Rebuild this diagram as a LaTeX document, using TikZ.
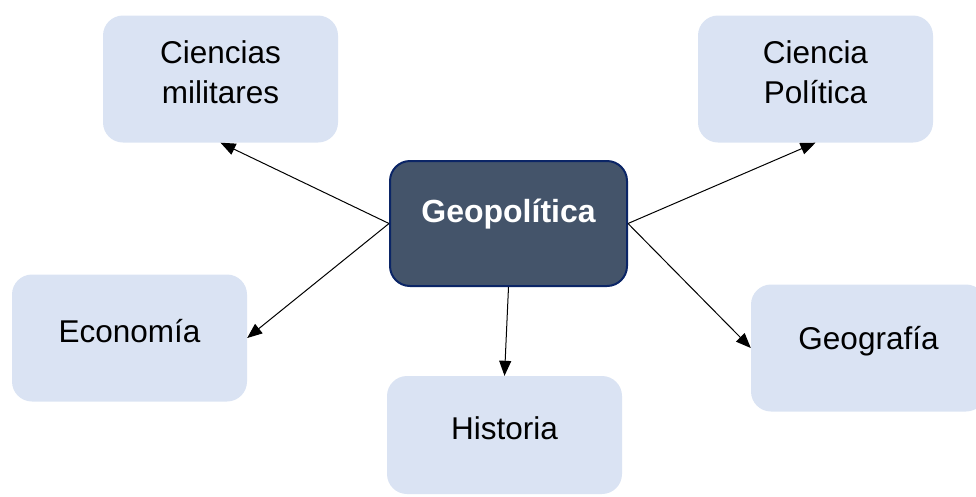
\documentclass[tikz,border=0pt]{standalone}
\usepackage{fontspec}
\setmainfont{Liberation Sans}
\usepackage{xcolor}
\usetikzlibrary{arrows.meta}
\definecolor{boxfill}{HTML}{DAE3F3}
\definecolor{hubfill}{HTML}{44546A}
\definecolor{hubline}{HTML}{0B2566}

\begin{document}
\begin{tikzpicture}[x=1pt, y=-1pt,
        topic/.style = {fill=boxfill, rounded corners=20pt, minimum width=235pt, minimum height=127pt, inner sep=0pt},
        hub/.style = {fill=hubfill, draw=hubline, line width=2pt, rounded corners=20pt, minimum width=237pt, minimum height=125pt, inner sep=0pt},
        caption/.style = {align=center, font=\fontsize{31.5}{40}\selectfont, inner sep=0pt},
        link/.style = {line width=1pt, -{Triangle[length=15pt,width=12pt]}}]
        \useasboundingbox (0,0) rectangle (976,496);
        \node[topic] (mil) at (220.5,79) {};
        \node[topic] (pol) at (815.5,79) {};
        \node[topic] (eco) at (129.5,338) {};
        \node[topic, minimum height=118pt] (his) at (504.5,435) {};
        \node[topic] (geo) at (868.5,348) {};
        \node[hub] (geo0) at (508.5,223.5) {};
        \node[caption] (miltext) at ([yshift=7pt]mil.center) {Ciencias\\militares};
        \node[caption] (poltext) at ([yshift=7pt]pol.center) {Ciencia\\Política};
        \node[caption] (ecotext) at ([yshift=7pt]eco.center) {Economía};
        \node[caption] (histext) at ([yshift=7pt]his.center) {Historia};
        \node[caption] (geotext) at ([yshift=7pt]geo.center) {Geografía};
        \node[caption, text=white, font=\fontsize{32}{40}\selectfont\bfseries] (geo0text) at ([yshift=9pt]geo0.center) {Geopolítica};
        \draw[link] (geo0.west) -- (mil.south);
        \draw[link] (geo0.east) -- (pol.south);
        \draw[link] (geo0.west) -- (eco.east);
        \draw[link] (geo0.south) -- (his.north);
        \draw[link] (geo0.east) -- (geo.west);
    \end{tikzpicture}
\end{document}
